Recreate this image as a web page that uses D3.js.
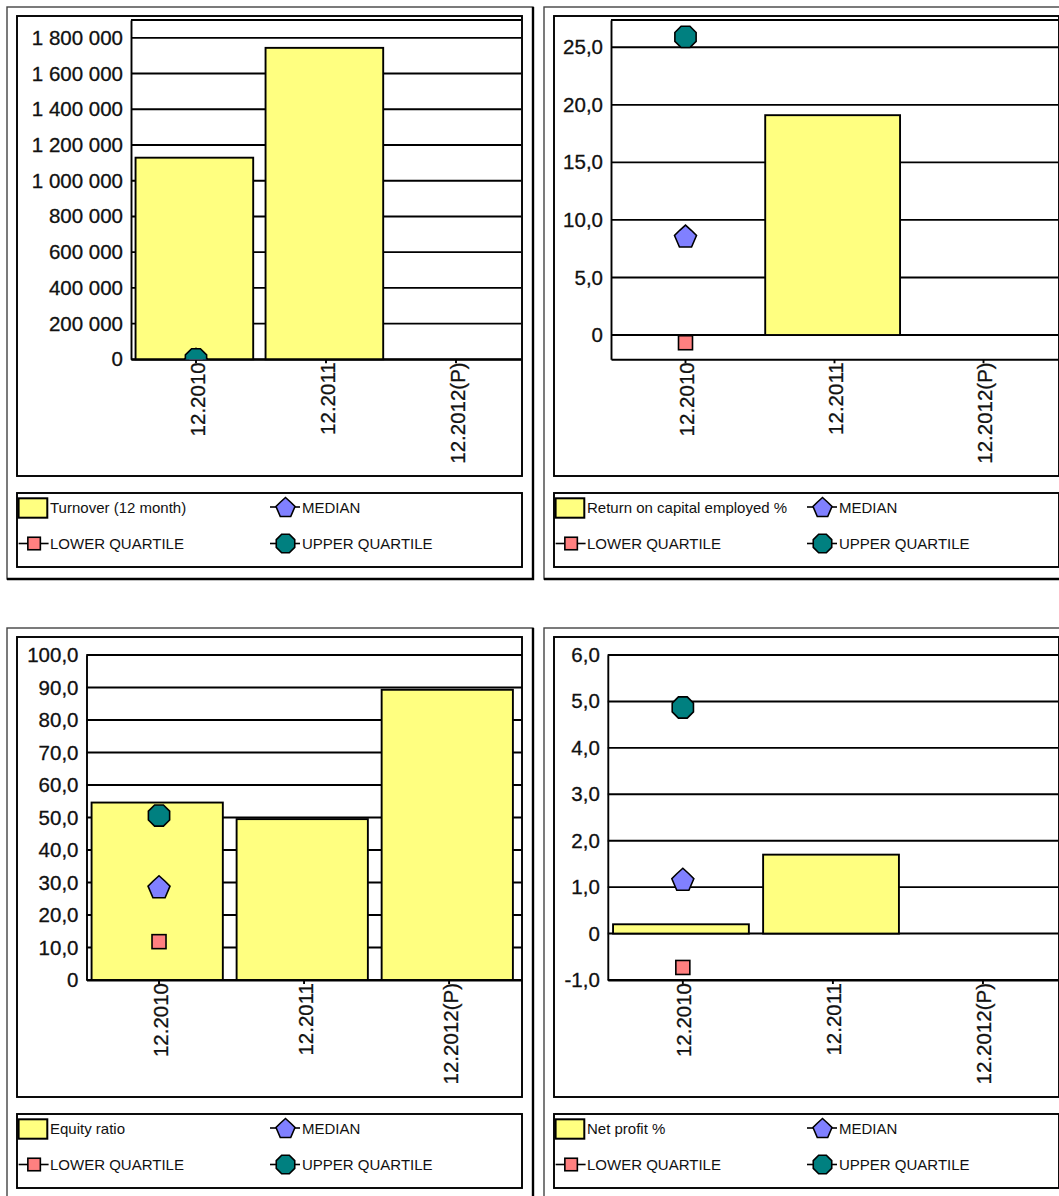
<!DOCTYPE html>
<html>
<head>
<meta charset="utf-8">
<script src="https://cdn.jsdelivr.net/npm/d3@7"></script>
<style>
  html, body { margin: 0; padding: 0; background: #fff; }
  svg { display: block; }
  text { font-family: "Liberation Sans", Arial, sans-serif; }
</style>
</head>
<body>
<svg id="chart" width="1059" height="1196"></svg>
<script>
// Periods shown on every panel
const categories = ["12.2010", "12.2011", "12.2012(P)"];

// Turnover (12 month)
const turnover = [1129000, 1744000, null];
const turnoverMedian = [0, null, null];
const turnoverLower = [0, null, null];
const turnoverUpper = [0, null, null];
const turnoverTicks = [0, 200000, 400000, 600000, 800000, 1000000, 1200000, 1400000, 1600000, 1800000];
const turnoverRange = [0, 1900000];

// Return on capital employed %
const roce = [null, 19.1, null];
const roceMedian = [8.6, null, null];
const roceLower = [-0.67, null, null];
const roceUpper = [25.9, null, null];
const roceTicks = [0, 5, 10, 15, 20, 25];
const roceRange = [-2.11, 27.37];

// Equity ratio
const equity = [54.6, 49.5, 89.3];
const equityMedian = [28.7, null, null];
const equityLower = [11.8, null, null];
const equityUpper = [50.6, null, null];
const equityTicks = [0, 10, 20, 30, 40, 50, 60, 70, 80, 90, 100];
const equityRange = [0, 100];

// Net profit %
const netProfit = [0.2, 1.7, null];
const netProfitMedian = [1.17, null, null];
const netProfitLower = [-0.73, null, null];
const netProfitUpper = [4.87, null, null];
const netProfitTicks = [-1, 0, 1, 2, 3, 4, 5, 6];
const netProfitRange = [-1, 6];

const legendNames = ["Turnover (12 month)", "Return on capital employed %", "Equity ratio", "Net profit %"];
const quartileNames = ["MEDIAN", "LOWER QUARTILE", "UPPER QUARTILE"];

// Number formats: space thousands separator, comma decimals
const loc = d3.formatLocale({decimal: ",", thousands: "\u00a0", grouping: [3], currency: ["", ""], minus: "-"});
const fmtInt = loc.format(",.0f");
const fmtDec = loc.format(".1f");
const labelInt = v => v === 0 ? "0" : fmtInt(v);
const labelDec = v => v === 0 ? "0" : fmtDec(v);

const COL = {
  bar: "#ffff80",
  median: "#8080ff",
  lower: "#ff8080",
  upper: "#008080",
  line: "#000"
};
const LW = 1.9;

const svg = d3.select("#chart");

// Marker shapes
const octagon = r => {
  const pts = d3.range(8).map(i => {
    const a = Math.PI / 8 + i * Math.PI / 4;
    return [r * Math.cos(a), r * Math.sin(a)];
  });
  return "M" + pts.map(p => p.join(",")).join("L") + "Z";
};
const pentagon = s => {
  const pts = [[0, -s], [0.55 * s, -0.5 * s], [s, -0.05 * s], [0.55 * s, s], [-0.55 * s, s], [-s, -0.05 * s], [-0.55 * s, -0.5 * s]];
  return "M" + pts.map(p => p.join(",")).join("L") + "Z";
};

function marker(g, kind, x, y, size) {
  if (kind === "lower") {
    g.append("rect")
      .attr("x", x - size / 2).attr("y", y - size / 2)
      .attr("width", size).attr("height", size)
      .attr("fill", COL.lower).attr("stroke", COL.line).attr("stroke-width", 1.6);
  } else if (kind === "median") {
    g.append("path").attr("d", pentagon(size / 2))
      .attr("transform", `translate(${x},${y})`)
      .attr("fill", COL.median).attr("stroke", COL.line).attr("stroke-width", 1.6);
  } else {
    g.append("path").attr("d", octagon(size / 2))
      .attr("transform", `translate(${x},${y})`)
      .attr("fill", COL.upper).attr("stroke", COL.line).attr("stroke-width", 1.6);
  }
}

function panel(opt) {
  const dx = opt.dx, dy = opt.dy;
  const g = svg.append("g");

  // Outer raised frame
  g.append("rect").attr("x", 7 + dx).attr("y", 7 + dy).attr("width", 526).attr("height", 572)
    .attr("fill", "none").attr("stroke", "#444").attr("stroke-width", 1.4);
  g.append("path")
    .attr("d", `M${533 + dx},${7 + dy}V${579 + dy}H${7 + dx}`)
    .attr("fill", "none").attr("stroke", "#000").attr("stroke-width", 2.4);

  // Chart box
  g.append("rect").attr("x", 17 + dx).attr("y", 16 + dy).attr("width", 505).attr("height", 460)
    .attr("fill", "#fff").attr("stroke", "#000").attr("stroke-width", LW);

  const p = opt.plot;
  const x = d3.scaleBand().domain(categories).range([p.l, p.r]).padding(0);
  const y = d3.scaleLinear().domain(opt.range).range([p.b, p.t]);
  const bw = x.bandwidth();

  // Horizontal grid lines
  g.append("g").selectAll("line").data(opt.ticks).join("line")
    .attr("x1", p.l).attr("x2", p.r)
    .attr("y1", d => y(d)).attr("y2", d => y(d))
    .attr("stroke", "#000").attr("stroke-width", LW);
  // Plot top border
  g.append("line").attr("x1", p.l).attr("x2", p.r).attr("y1", p.t).attr("y2", p.t)
    .attr("stroke", "#000").attr("stroke-width", LW);

  // Bars
  const barData = categories.map((c, i) => ({c, v: opt.bars[i]})).filter(d => d.v != null);
  g.append("g").selectAll("rect").data(barData).join("rect")
    .attr("x", d => x(d.c) + bw * 0.035)
    .attr("width", bw * 0.905)
    .attr("y", d => Math.min(y(d.v), y(0)))
    .attr("height", d => Math.abs(y(0) - y(d.v)))
    .attr("fill", COL.bar).attr("stroke", COL.line).attr("stroke-width", LW);

  // Axes: left line, bottom line with category ticks
  const yAxis = d3.axisLeft(y).tickValues(opt.ticks).tickFormat(opt.fmt).tickSize(0).tickPadding(8);
  const ya = g.append("g").attr("transform", `translate(${p.l},0)`).call(yAxis);
  ya.select(".domain").attr("stroke", "#000").attr("stroke-width", LW);
  ya.selectAll("text").attr("font-size", 20.5).attr("fill", "#111")
    .attr("stroke", "#111").attr("stroke-width", 0.3)
    .attr("font-family", "'Liberation Sans', Arial, sans-serif");

  const xAxis = d3.axisBottom(x).tickSize(4).tickSizeOuter(0).tickFormat("");
  const xa = g.append("g").attr("transform", `translate(0,${p.b})`).call(xAxis);
  xa.select(".domain").attr("stroke", "#000").attr("stroke-width", LW);
  xa.selectAll(".tick line").attr("stroke", "#000").attr("stroke-width", LW);

  // Rotated category labels
  g.append("g").selectAll("text").data(categories).join("text")
    .attr("transform", d => `translate(${x(d) + bw / 2 + 1},${p.b + 3}) rotate(-90)`)
    .attr("text-anchor", "end").attr("dominant-baseline", "central")
    .attr("font-size", 20.5).attr("fill", "#111")
    .attr("stroke", "#111").attr("stroke-width", 0.3)
    .text(d => d);

  // Quartile markers, clipped to the plot area
  const clipId = "clip" + opt.id;
  g.append("clipPath").attr("id", clipId).append("rect")
    .attr("x", p.l).attr("y", p.t).attr("width", p.r - p.l).attr("height", p.b - p.t);
  const mg = g.append("g").attr("clip-path", `url(#${clipId})`);
  const series = [["lower", opt.lower, 14], ["median", opt.median, 22], ["upper", opt.upper, 23]];
  series.forEach(([kind, vals, size]) => {
    vals.forEach((v, i) => {
      if (v == null) return;
      marker(mg, kind, x(categories[i]) + bw / 2, y(v), size);
    });
  });

  // Legend
  const lg = g.append("g").attr("transform", `translate(${dx},${dy})`);
  lg.append("rect").attr("x", 17).attr("y", 493).attr("width", 505).attr("height", 74)
    .attr("fill", "#fff").attr("stroke", "#000").attr("stroke-width", LW);
  const r1 = 507, r2 = 543.5;
  lg.append("rect").attr("x", 18.6).attr("y", 498.3).attr("width", 28.7).attr("height", 19.4)
    .attr("fill", COL.bar).attr("stroke", COL.line).attr("stroke-width", 2);
  const items = [
    {kind: "median", lx: 270, y: r1, text: quartileNames[0], size: 19},
    {kind: "lower", lx: 18.6, y: r2, text: quartileNames[1], size: 12.5},
    {kind: "upper", lx: 270, y: r2, text: quartileNames[2], size: 20}
  ];
  items.forEach(it => {
    lg.append("line").attr("x1", it.lx).attr("x2", it.lx + 30).attr("y1", it.y).attr("y2", it.y)
      .attr("stroke", "#000").attr("stroke-width", 1.6);
    marker(lg, it.kind, it.lx + 15.5, it.y, it.size);
  });
  const texts = [
    {x: 50, y: r1, t: opt.name},
    {x: 302, y: r1, t: quartileNames[0]},
    {x: 50, y: r2, t: quartileNames[1]},
    {x: 302, y: r2, t: quartileNames[2]}
  ];
  lg.selectAll("text.lt").data(texts).join("text").attr("class", "lt")
    .attr("x", d => d.x).attr("y", d => d.y)
    .attr("dominant-baseline", "central")
    .attr("font-size", 15).attr("fill", "#111")
    .text(d => d.t);
}

panel({id: 1, dx: 0, dy: 0, name: legendNames[0],
  plot: {l: 131, r: 521, t: 20, b: 359.3},
  range: turnoverRange, ticks: turnoverTicks, fmt: labelInt,
  bars: turnover, median: turnoverMedian, lower: turnoverLower, upper: turnoverUpper});

panel({id: 2, dx: 537, dy: 0, name: legendNames[1],
  plot: {l: 611, r: 1058, t: 20, b: 359.3},
  range: roceRange, ticks: roceTicks, fmt: labelDec,
  bars: roce, median: roceMedian, lower: roceLower, upper: roceUpper});

panel({id: 3, dx: 0, dy: 621, name: legendNames[2],
  plot: {l: 86.5, r: 521.6, t: 655, b: 980},
  range: equityRange, ticks: equityTicks, fmt: labelDec,
  bars: equity, median: equityMedian, lower: equityLower, upper: equityUpper});

panel({id: 4, dx: 537, dy: 621, name: legendNames[3],
  plot: {l: 607.8, r: 1058, t: 655, b: 980},
  range: netProfitRange, ticks: netProfitTicks, fmt: labelDec,
  bars: netProfit, median: netProfitMedian, lower: netProfitLower, upper: netProfitUpper});
</script>
</body>
</html>
